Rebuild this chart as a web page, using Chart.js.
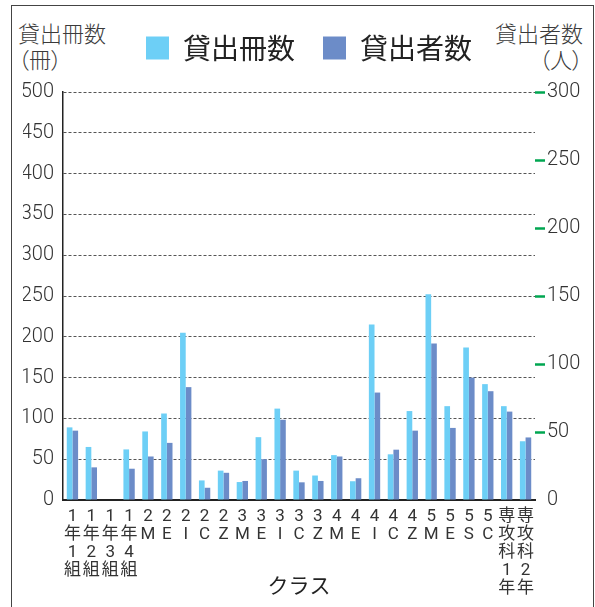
<!DOCTYPE html>
<html lang="ja">
<head>
<meta charset="UTF-8">
<meta name="viewport" content="width=device-width, initial-scale=1.0">
<title>クラス別 貸出冊数・貸出者数</title>
<script src="https://cdn.jsdelivr.net/npm/chart.js"></script>
<style>
    html, body { margin: 0; padding: 0; background: #fff; }
    body { width: 595px; height: 607px; position: relative; overflow: hidden;
           font-family: "Noto Sans CJK JP", sans-serif; color: #333; }
    .frame { position: absolute; left: 11px; top: 5px; width: 581px; height: 640px; border: 1px solid #444; }
    .axis-title { position: absolute; top: 19px; font-size: 22px; line-height: 26px; font-weight: 300;
                  font-feature-settings: "palt"; white-space: nowrap; color: #3a3a3a; }
    #leftTitle { left: 18px; }
    #rightTitle { right: 12px; text-align: right; }
    #chartBox { position: absolute; left: 0; top: 0; width: 595px; height: 607px; }
</style>
</head>
<body>
    <div class="frame"></div>
    <div class="axis-title" id="leftTitle">貸出冊数<br>（冊）</div>
    <div class="axis-title" id="rightTitle">貸出者数<br>（人）</div>
    <div id="chartBox"><canvas id="chart"></canvas></div>

<script>
// クラス名（縦書きラベル、1要素=1行）
const classLabels = [
    ['1', '年', '1', '組'], ['1', '年', '2', '組'], ['1', '年', '3', '組'], ['1', '年', '4', '組'],
    ['2', 'M'], ['2', 'E'], ['2', 'I'], ['2', 'C'], ['2', 'Z'],
    ['3', 'M'], ['3', 'E'], ['3', 'I'], ['3', 'C'], ['3', 'Z'],
    ['4', 'M'], ['4', 'E'], ['4', 'I'], ['4', 'C'], ['4', 'Z'],
    ['5', 'M'], ['5', 'E'], ['5', 'S'], ['5', 'C'],
    ['専', '攻', '科', '1', '年'], ['専', '攻', '科', '2', '年']
];

// 貸出冊数（冊）- 左軸
const bookCounts = [89, 65, 0, 62, 84, 106, 205, 24, 36, 22, 77, 112, 36, 30, 55, 23, 215, 56, 109, 252, 115, 187, 142, 115, 72];

// 貸出者数（人）- 右軸
const userCounts = [51, 24, 0, 23, 32, 42, 83, 9, 20, 14, 30, 59, 13, 14, 32, 16, 79, 37, 51, 115, 53, 90, 80, 65, 46];

const bookAxis = { min: 0, max: 500, step: 50 };
const userAxis = { min: 0, max: 300, step: 50 };

const numFont = { family: 'Roboto, sans-serif', size: 20, weight: '300' };
const jpFont = 'Roboto, "Noto Sans CJK JP", sans-serif';

new Chart(document.getElementById('chart'), {
    type: 'bar',
    data: {
        labels: classLabels,
        datasets: [
            {
                label: '貸出冊数',
                data: bookCounts,
                yAxisID: 'y',
                backgroundColor: '#6dcff6',
                borderWidth: 0,
                categoryPercentage: 0.6,
                barPercentage: 1.0
            },
            {
                label: '貸出者数',
                data: userCounts,
                yAxisID: 'y1',
                backgroundColor: '#6c8cc8',
                borderWidth: 0,
                categoryPercentage: 0.6,
                barPercentage: 1.0
            }
        ]
    },
    options: {
        responsive: true,
        maintainAspectRatio: false,
        animation: false,
        layout: { padding: { left: 23, right: 0, top: 6, bottom: 0 } },
        plugins: {
            tooltip: { enabled: false },
            legend: {
                position: 'top',
                align: 'center',
                labels: {
                    boxWidth: 23,
                    boxHeight: 23,
                    padding: 28,
                    color: '#222',
                    font: { family: '"Noto Sans CJK JP", sans-serif', size: 28 }
                }
            },
            // empty spacer between legend and plot
            subtitle: {
                display: true,
                text: '',
                weight: 500,
                padding: 0,
                font: { size: 20, lineHeight: 1 }
            }
        },
        scales: {
            x: {
                grid: { display: false, drawTicks: false },
                border: { display: true, color: '#222', width: 2 },
                ticks: {
                    autoSkip: false,
                    maxRotation: 0,
                    padding: 8,
                    color: '#333',
                    font: { family: jpFont, size: 17, lineHeight: 1.06 }
                },
                title: {
                    display: true,
                    text: 'クラス',
                    color: '#222',
                    font: { family: '"Noto Sans CJK JP", sans-serif', size: 21, lineHeight: 1.2 },
                    padding: { top: 0, bottom: 9 }
                },
                afterFit(scale) { scale.height = 107; }
            },
            y: {
                position: 'left',
                min: bookAxis.min,
                max: bookAxis.max,
                ticks: { stepSize: bookAxis.step, padding: 9, color: '#333', font: numFont },
                grid: { color: '#555', lineWidth: 1, drawTicks: false },
                border: { display: true, color: '#222', width: 1.5, dash: [3, 2] },
                afterFit(scale) { scale.width = 40; }
            },
            y1: {
                position: 'right',
                min: userAxis.min,
                max: userAxis.max,
                ticks: { stepSize: userAxis.step, padding: 2, color: '#333', font: numFont },
                grid: {
                    drawOnChartArea: false,
                    drawTicks: true,
                    tickLength: 10,
                    tickWidth: 2.5,
                    tickColor: ctx => (ctx.tick && ctx.tick.value === 0) ? 'rgba(0,0,0,0)' : '#00a651'
                },
                border: { display: false },
                afterFit(scale) { scale.width = 60; }
            }
        }
    }
});
</script>
</body>
</html>
